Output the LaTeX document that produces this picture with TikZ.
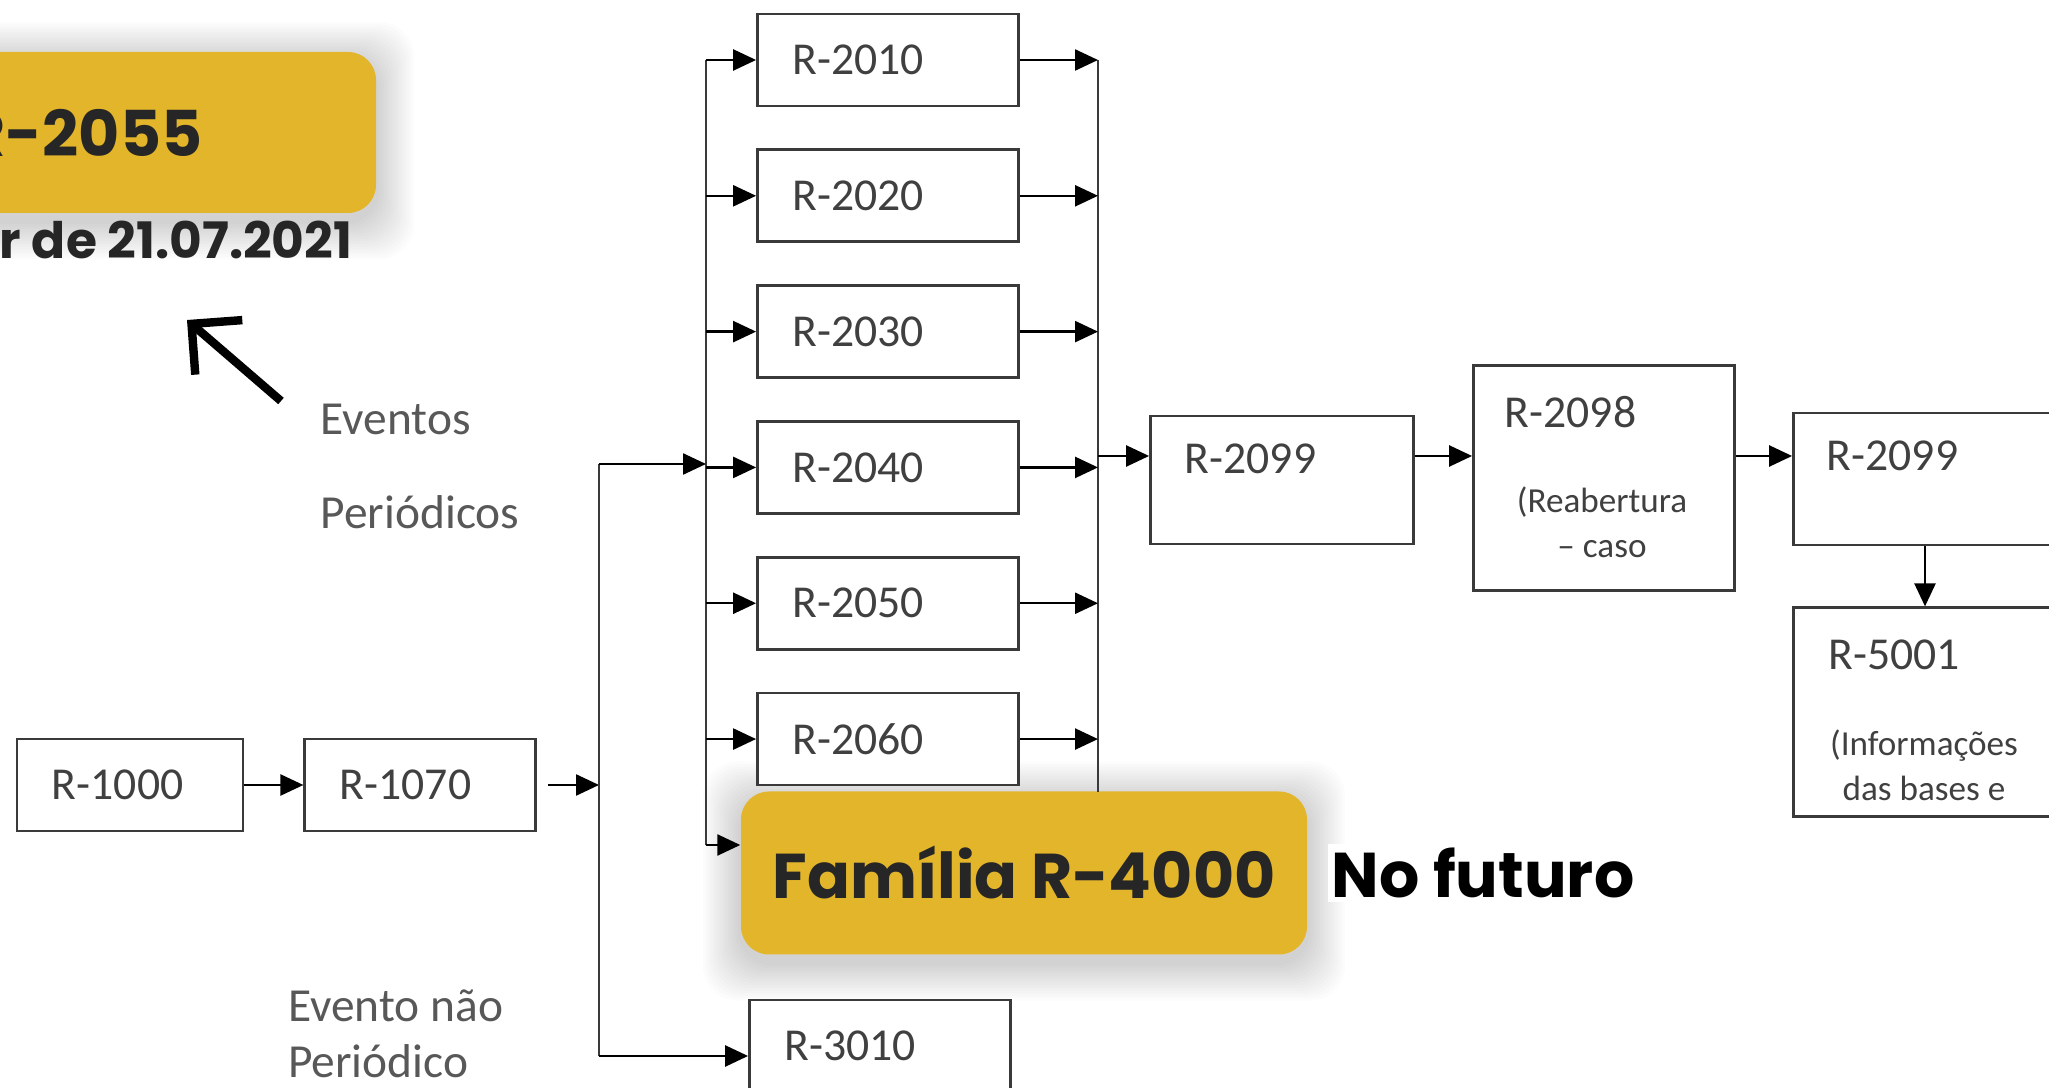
\documentclass[tikz,border=0pt]{standalone}
\usepackage{fontspec}
\setmainfont{Carlito}
\newfontfamily\headfont{Poppins}
\usepackage{xcolor}
\usepackage{tikz}
\usetikzlibrary{arrows.meta,positioning,calc,backgrounds}

\definecolor{gold}{RGB}{227,181,43}
\definecolor{linegray}{RGB}{58,58,58}
\definecolor{txtgray}{RGB}{64,64,64}
\definecolor{notegray}{RGB}{88,88,88}

\begin{document}
\begin{tikzpicture}[
  node distance=0.41cm and 0.5cm,
  box/.style={
    rectangle, draw=linegray, line width=0.8pt, fill=white,
    minimum width=2.61cm, minimum height=0.92cm,
    text width=1.91cm, inner xsep=0.35cm, inner ysep=0pt, align=left,
    font=\fontsize{13pt}{15pt}\selectfont, text=txtgray
  },
  tallbox/.style={
    rectangle, draw=linegray, line width=0.8pt, fill=white,
    minimum width=2.63cm, inner sep=0pt
  },
  lbl/.style={font=\fontsize{13pt}{15pt}\selectfont, text=txtgray, inner sep=0pt},
  note/.style={font=\fontsize{10pt}{12.8pt}\selectfont, text=txtgray, inner sep=0pt, align=center},
  side/.style={font=\fontsize{13.5pt}{16pt}\selectfont, text=notegray, inner sep=0pt, anchor=base west},
  goldbox/.style={
    rectangle, rounded corners=0.28cm, fill=gold, inner sep=0pt,
    font=\headfont\bfseries\fontsize{18pt}{22pt}\selectfont, text=black!85
  },
  arr/.style={-{Triangle[length=0.23cm,width=0.21cm]}, line width=0.7pt, draw=black},
  bus/.style={line width=0.8pt, draw=linegray},
  bigarr/.style={-{Straight Barb[length=0.36cm,width=0.72cm]}, line width=2.4pt, line join=miter}
]
\useasboundingbox (0,0) rectangle (20.49,10.88);
\clip (0,0) rectangle (20.49,10.88);

% Start of the chain
\node[box, minimum width=2.26cm, text width=1.56cm] (r1000) at (1.30,3.03) {R-1000};
\node[box, minimum width=2.31cm, text width=1.61cm, right=0.59cm of r1000] (r1070) {R-1070};
\draw[arr] (r1000) -- (r1070);

% Split line
\coordinate (stop) at (5.99,6.24);
\coordinate (sbot) at (5.99,0.32);
\draw[arr] ([xshift=0.11cm]r1070.east) -- (r1070.east -| stop);
\draw[bus] (stop) -- (sbot);

% Periodic events column
\node[box] (r2010) at (8.88,10.28) {R-2010};
\node[box, below=of r2010] (r2020) {R-2020};
\node[box, below=of r2020] (r2030) {R-2030};
\node[box, below=of r2030] (r2040) {R-2040};
\node[box, below=of r2040] (r2050) {R-2050};
\node[box, below=of r2050] (r2060) {R-2060};
\node[goldbox, minimum width=5.66cm, minimum height=1.63cm] (r4000) at (10.24,2.15) {Família R-4000};
\node[right=0.2cm of r4000, fill=white, inner sep=1pt, text=black,
  font=\headfont\bfseries\fontsize{18pt}{22pt}\selectfont] (futuro) {No futuro};

% Non periodic event
\node[box] (r3010) at (8.80,0.42) {R-3010};
\draw[arr] (sbot) -- (sbot -| r3010.west);

% Left bus
\coordinate (lbtop) at (7.06,10.28);
\coordinate (lbbot) at (7.06,2.43);
\draw[bus] (lbtop) -- (lbbot);
\draw[arr] (stop) -- (stop -| lbtop);
\foreach \n in {r2010,r2020,r2030,r2040,r2050,r2060}
  \draw[arr] (\n.west -| lbtop) -- (\n.west);
\draw[arr] (lbbot) -- (lbbot -| r4000.west);

% Right bus
\coordinate (rbtop) at (10.98,10.28);
\coordinate (rbbot) at (10.98,2.96);
\draw[bus] (rbtop) -- (rbbot);
\foreach \n in {r2010,r2020,r2030,r2040,r2050,r2060}
  \draw[arr] (\n.east) -- (\n.east -| rbtop);

% Closing chain
\coordinate (row) at (10.98,6.32);
\node[tallbox, minimum height=1.28cm] (r2099a) at (12.82,6.08) {};
\node[tallbox, minimum width=2.61cm, minimum height=2.25cm] (r2098) at (16.04,6.10) {};
\node[tallbox, minimum height=1.32cm] (r2099b) at (19.25,6.09) {};
\node[tallbox, minimum height=2.09cm, below=0.6cm of r2099b] (r5001) {};
\draw[arr] (row) -- (row -| r2099a.west);
\draw[arr] (r2099a.east |- row) -- (r2098.west |- row);
\draw[arr] (r2098.east |- row) -- (r2099b.west |- row);
\draw[arr] (r2099b) -- (r5001);

\node[lbl, below right=0.29cm and 0.35cm of r2099a.north west] (r2099alb) {R-2099};
\node[lbl, below right=0.32cm and 0.32cm of r2098.north west] (r2098lb) {R-2098};
\node[note] (r2098nt) at (16.02,5.66) {(Reabertura\\– caso};
\node[lbl, below right=0.29cm and 0.34cm of r2099b.north west] (r2099blb) {R-2099};
\node[lbl, below right=0.33cm and 0.355cm of r5001.north west] (r5001lb) {R-5001};
\node[note] (r5001nt) at (19.24,3.23) {(Informações\\das bases e};

% Side texts
\node[side] (evper1) at (3.20,6.53) {Eventos};
\node[side] (evper2) at (3.20,5.59) {Periódicos};
\node[side] (evnp1) at (2.875,0.67) {Evento não};
\node[side] (evnp2) at (2.875,0.10) {Periódico};

% Top left note
\node[goldbox, minimum width=4.76cm, minimum height=1.61cm] (r2055) at (1.38,9.555) {};
\node[anchor=base east, inner sep=0pt, text=black!85,
  font=\headfont\bfseries\fontsize{18pt}{22pt}\selectfont] (r2055lb) at (2.03,9.31) {R-2055};
\node[anchor=base east, inner sep=0pt, text=black!85,
  font=\headfont\bfseries\fontsize{14.3pt}{17pt}\selectfont] (since) at (3.53,8.29) {r de 21.07.2021};
\coordinate (evtail) at (2.81,6.87);
\coordinate (evtip) at (1.87,7.68);
\draw[bigarr] (evtail) -- (evtip);

% Soft shadows
\begin{scope}[on background layer]
\foreach \n in {r2055,r4000}
  \foreach \d in {0.025,0.05,...,0.40}
    \fill[black, opacity=0.011, rounded corners=0.35cm]
      ([shift={(-\d,-\d-0.08)}]\n.south west) rectangle ([shift={(\d,\d-0.08)}]\n.north east);
\end{scope}

\end{tikzpicture}
\end{document}
